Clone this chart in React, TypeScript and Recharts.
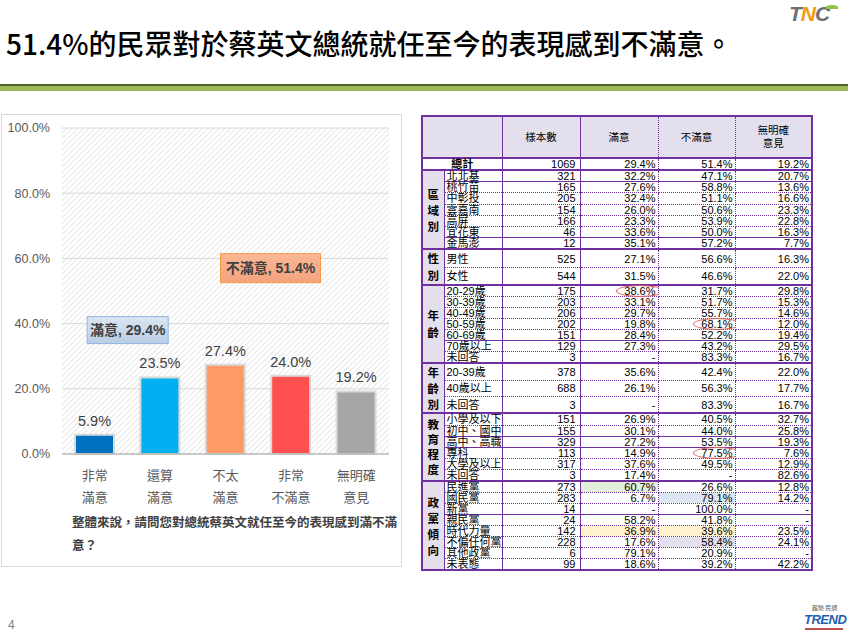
import React from "react";
import { BarChart, Bar, XAxis, YAxis, CartesianGrid, LabelList, Cell, ReferenceDot } from "recharts";

// ---- chart data ----
const CATEGORY_LINES = [["非常", "滿意"], ["還算", "滿意"], ["不太", "滿意"], ["非常", "不滿意"], ["無明確", "意見"]];
const CATEGORIES = CATEGORY_LINES.map((l) => l.join(""));
const SHARES = [5.9, 23.5, 27.4, 24.0, 19.2];
const BAR_COLORS = ["#0070C0", "#00B0F0", "#FF9966", "#FF5050", "#A6A6A6"];
const Y_TICKS = [0, 20, 40, 60, 80, 100];
const SATISFIED_TOTAL = 29.4;
const UNSATISFIED_TOTAL = 51.4;

// ---- table data ----
type Row = [string, string, string, string, string];
const TABLE_HEAD = ["樣本數", "滿意", "不滿意", "無明確\n意見"];
const TOTAL_ROW: Row = ["總計", "1069", "29.4%", "51.4%", "19.2%"];
const REGION_ROWS: Row[] = [
  ["北北基", "321", "32.2%", "47.1%", "20.7%"],
  ["桃竹苗", "165", "27.6%", "58.8%", "13.6%"],
  ["中彰投", "205", "32.4%", "51.1%", "16.6%"],
  ["雲嘉南", "154", "26.0%", "50.6%", "23.3%"],
  ["高屏", "166", "23.3%", "53.9%", "22.8%"],
  ["宜花東", "46", "33.6%", "50.0%", "16.3%"],
  ["金馬澎", "12", "35.1%", "57.2%", "7.7%"],
];
const GENDER_ROWS: Row[] = [
  ["男性", "525", "27.1%", "56.6%", "16.3%"],
  ["女性", "544", "31.5%", "46.6%", "22.0%"],
];
const AGE_ROWS: Row[] = [
  ["20-29歲", "175", "38.6%", "31.7%", "29.8%"],
  ["30-39歲", "203", "33.1%", "51.7%", "15.3%"],
  ["40-49歲", "206", "29.7%", "55.7%", "14.6%"],
  ["50-59歲", "202", "19.8%", "68.1%", "12.0%"],
  ["60-69歲", "151", "28.4%", "52.2%", "19.4%"],
  ["70歲以上", "129", "27.3%", "43.2%", "29.5%"],
  ["未回答", "3", "-", "83.3%", "16.7%"],
];
const AGE_GROUP_ROWS: Row[] = [
  ["20-39歲", "378", "35.6%", "42.4%", "22.0%"],
  ["40歲以上", "688", "26.1%", "56.3%", "17.7%"],
  ["未回答", "3", "-", "83.3%", "16.7%"],
];
const EDU_ROWS: Row[] = [
  ["小學及以下", "151", "26.9%", "40.5%", "32.7%"],
  ["初中、國中", "155", "30.1%", "44.0%", "25.8%"],
  ["高中、高職", "329", "27.2%", "53.5%", "19.3%"],
  ["專科", "113", "14.9%", "77.5%", "7.6%"],
  ["大學及以上", "317", "37.6%", "49.5%", "12.9%"],
  ["未回答", "3", "17.4%", "-", "82.6%"],
];
const PARTY_ROWS: Row[] = [
  ["民進黨", "273", "60.7%", "26.6%", "12.8%"],
  ["國民黨", "283", "6.7%", "79.1%", "14.2%"],
  ["新黨", "14", "-", "100.0%", "-"],
  ["親民黨", "24", "58.2%", "41.8%", "-"],
  ["時代力量", "142", "36.9%", "39.6%", "23.5%"],
  ["不偏任何黨", "228", "17.6%", "58.4%", "24.1%"],
  ["其他政黨", "6", "79.1%", "20.9%", "-"],
  ["未表態", "99", "18.6%", "39.2%", "42.2%"],
];

const PURPLE = "#7030A0";
const LAVENDER = "#E4DFEC";

const GROUPS = [
  { title: "區域別", rows: REGION_ROWS, rowH: 10.2, solidAfter: [0, 5], step: 16 },
  { title: "性別", rows: GENDER_ROWS, rowH: 13.6, solidAfter: [], step: 17 },
  { title: "年齡", rows: AGE_ROWS, rowH: 9.8, solidAfter: [4], step: 17 },
  { title: "年齡別", rows: AGE_GROUP_ROWS, rowH: 12.6, solidAfter: [], step: 16 },
  { title: "教育程度", rows: EDU_ROWS, rowH: 10.2, solidAfter: [1, 2], step: 15 },
  { title: "政黨傾向", rows: PARTY_ROWS, rowH: 9.2, solidAfter: [2], step: 16 },
];

// [group, row, col] -> background
const SHADED: [number, number, number, string][] = [
  [5, 0, 2, "#E2EFDA"],
  [5, 1, 3, "#DCE6F1"],
  [5, 4, 2, "#FFF2CC"],
  [5, 4, 3, "#FFF2CC"],
  [5, 5, 3, "#E4DFEC"],
];
const CIRCLED: [number, number, number][] = [
  [2, 0, 2],
  [2, 3, 3],
  [4, 3, 3],
];

const chartData = CATEGORIES.map((name, i) => ({ name, value: SHARES[i] }));

function CategoryTick(props: any) {
  const { x, y, payload } = props;
  const lines = CATEGORY_LINES[CATEGORIES.indexOf(payload.value)] ?? [payload.value];
  return (
    <g transform={`translate(${x},${y})`}>
      {lines.map((l, i) => (
        <text key={i} x={0} y={26 + i * 22} textAnchor="middle" fill="#595959" fontSize={13}
          fontFamily="'Noto Sans CJK TC', sans-serif">
          {l}
        </text>
      ))}
    </g>
  );
}

function Callout(props: any) {
  const { cx, cy, dx, w, h, text, fill, stroke } = props;
  const x = cx + dx;
  return (
    <g>
      <rect x={x - w / 2} y={cy - h / 2} width={w} height={h} fill={fill} stroke={stroke} strokeWidth={1} />
      <text x={x} y={cy + 5} textAnchor="middle" fontSize={14} fontWeight="bold" fill="#404040"
        fontFamily="'Liberation Sans', 'Noto Sans CJK TC', sans-serif">
        {text}
      </text>
    </g>
  );
}

function SurveyChart() {
  return (
    <BarChart width={400} height={400} data={chartData} margin={{ top: 13, right: 11, left: 0, bottom: 6 }}>
      <defs>
        <pattern id="hatch" patternUnits="userSpaceOnUse" width="4" height="4" patternTransform="rotate(45)">
          <rect width="4" height="4" fill="#FFFFFF" />
          <line x1="0" y1="0" x2="0" y2="4" stroke="#D6D6D6" strokeWidth="1.2" />
        </pattern>
        <linearGradient id="blueBox" x1="0" y1="0" x2="0" y2="1">
          <stop offset="0%" stopColor="#DCE6F2" />
          <stop offset="100%" stopColor="#B9CDE5" />
        </linearGradient>
        <linearGradient id="orangeBox" x1="0" y1="0" x2="0" y2="1">
          <stop offset="0%" stopColor="#F9B894" />
          <stop offset="100%" stopColor="#F4A27E" />
        </linearGradient>
      </defs>
      <CartesianGrid vertical={false} stroke="#D9D9D9" fill="url(#hatch)" />
      <XAxis dataKey="name" height={55} interval={0} tickLine={false} tickSize={0} tickMargin={0}
        axisLine={{ stroke: "#A6A6A6" }} tick={<CategoryTick />} />
      <YAxis width={62} domain={[0, 100]} ticks={Y_TICKS} axisLine={false} tickLine={false} tickSize={0}
        tickMargin={12} tickFormatter={(v: number) => `${v.toFixed(1)}%`}
        tick={{ fill: "#595959", fontSize: 12.5, fontFamily: "'Liberation Sans', sans-serif" }} />
      <Bar dataKey="value" barSize={39} stroke="#DADADA" strokeWidth={2} isAnimationActive={false}>
        {chartData.map((d, i) => (
          <Cell key={d.name} fill={BAR_COLORS[i]} />
        ))}
        <LabelList dataKey="value" position="top" offset={9} formatter={(v: any) => `${Number(v).toFixed(1)}%`}
          fill="#404040" fontSize={14.5} fontFamily="'Liberation Sans', sans-serif" />
      </Bar>
      <ReferenceDot x={CATEGORIES[0]} y={38} r={0}
        shape={(p: any) => <Callout {...p} dx={33} w={81} h={27} text={`滿意, ${SATISFIED_TOTAL}%`} fill="url(#blueBox)" stroke="#8EB4E3" />} />
      <ReferenceDot x={CATEGORIES[2]} y={57} r={0}
        shape={(p: any) => <Callout {...p} dx={45} w={100} h={29} text={`不滿意, ${UNSATISFIED_TOTAL}%`} fill="url(#orangeBox)" stroke="#F79646" />} />
    </BarChart>
  );
}

function DataTable() {
  const solid = `1px solid ${PURPLE}`;
  const dotted = `1px dotted ${PURPLE}`;
  const thick = `2px solid ${PURPLE}`;
  const base: React.CSSProperties = {
    padding: 0, fontSize: 11, lineHeight: "10px", whiteSpace: "nowrap", overflow: "visible",
  };
  const colRight = [solid, solid, dotted, dotted, thick];
  return (
    <table style={{ borderCollapse: "collapse", tableLayout: "fixed", width: 390, border: thick,
      fontFamily: "'Liberation Sans', 'Noto Sans CJK TC', sans-serif", color: "#000" }}>
      <colgroup>
        <col style={{ width: 22 }} />
        <col style={{ width: 58 }} />
        <col style={{ width: 78 }} />
        <col style={{ width: 78 }} />
        <col style={{ width: 77 }} />
        <col style={{ width: 77 }} />
      </colgroup>
      <tbody>
        <tr>
          <td colSpan={2} style={{ ...base, height: 40, background: LAVENDER, borderRight: solid, borderBottom: thick }} />
          {TABLE_HEAD.map((h, i) => (
            <td key={h} style={{ ...base, height: 40, background: LAVENDER, textAlign: "center", lineHeight: "13px",
              fontSize: 10.5, whiteSpace: "pre", borderRight: colRight[i + 1], borderBottom: thick }}>
              {h}
            </td>
          ))}
        </tr>
        <tr>
          <td colSpan={2} style={{ ...base, height: 9, textAlign: "center", fontWeight: "bold", borderRight: solid, borderBottom: thick }}>
            {TOTAL_ROW[0]}
          </td>
          {TOTAL_ROW.slice(1).map((v, i) => (
            <td key={i} style={{ ...base, height: 9, textAlign: "right", paddingRight: i === 0 ? 4 : 2,
              borderRight: colRight[i + 1], borderBottom: thick }}>{v}</td>
          ))}
        </tr>
        {GROUPS.map((g, gi) =>
          g.rows.map((r, ri) => {
            const last = ri === g.rows.length - 1;
            const bottom = last ? thick : g.solidAfter.includes(ri) ? solid : dotted;
            return (
              <tr key={`${gi}-${ri}`}>
                {ri === 0 && (
                  <td rowSpan={g.rows.length} style={{ ...base, background: LAVENDER, borderRight: solid,
                    borderBottom: thick, textAlign: "center", verticalAlign: "middle", fontWeight: "bold",
                    fontSize: 11.5, lineHeight: `${g.step}px`, fontFamily: "'Noto Sans CJK TC', sans-serif" }}>
                    {g.title.split("").map((c) => (
                      <div key={c}>{c}</div>
                    ))}
                  </td>
                )}
                {r.map((v, ci) => {
                  const shade = SHADED.find((s) => s[0] === gi && s[1] === ri && s[2] === ci);
                  const circled = CIRCLED.some((s) => s[0] === gi && s[1] === ri && s[2] === ci);
                  return (
                    <td key={ci} style={{ ...base, height: g.rowH, position: "relative",
                      textAlign: ci === 0 ? "left" : "right",
                      paddingLeft: ci === 0 ? 2 : 0,
                      paddingRight: ci === 0 ? 0 : ci === 1 ? 4 : 2,
                      background: shade ? shade[3] : "#FFFFFF",
                      borderRight: colRight[ci], borderBottom: bottom }}>
                      {v}
                      {circled && (
                        <span style={{ position: "absolute", right: -6, top: "50%", marginTop: -6, width: 48, height: 12,
                          border: "1px solid #E05A5A", borderRadius: "50%", boxSizing: "border-box" }} />
                      )}
                    </td>
                  );
                })}
              </tr>
            );
          })
        )}
      </tbody>
    </table>
  );
}

export default function App() {
  return (
    <div style={{ position: "absolute", left: 0, top: 0, width: 848, height: 636, background: "#FFFFFF",
      overflow: "hidden", fontFamily: "'Noto Sans CJK TC', sans-serif" }}>
      {/* title */}
      <div style={{ position: "absolute", left: 6, top: 28, fontSize: 28, lineHeight: "30px", fontWeight: 500,
        color: "#000", whiteSpace: "nowrap", fontFamily: "'Noto Sans CJK TC', sans-serif" }}>
        51.4%的民眾對於蔡英文總統就任至今的表現感到不滿意。
      </div>
      <div style={{ position: "absolute", left: 0, top: 84, width: 848, height: 2, background: "#4F6228" }} />
      <div style={{ position: "absolute", left: 0, top: 86, width: 848, height: 5, background: "#9BBB59" }} />

      {/* TNC logo */}
      <div style={{ position: "absolute", left: 789, top: 2, fontSize: 21, fontWeight: "bold", fontStyle: "italic",
        fontFamily: "'Liberation Sans', sans-serif", color: "#6D6E71", letterSpacing: -1 }}>
        T<span style={{ color: "#F39C12" }}>N</span>C
      </div>
      <div style={{ position: "absolute", left: 826, top: 5, width: 12, height: 4, background: "#8DC63F",
        borderRadius: "50% 50% 0 0" }} />

      {/* chart panel */}
      <div style={{ position: "absolute", left: 1, top: 114, width: 399, height: 451, border: "1px solid #D9D9D9" }} />
      <div style={{ position: "absolute", left: 0, top: 115 }}>
        <SurveyChart />
      </div>
      <div style={{ position: "absolute", left: 72, top: 510, width: 332, fontSize: 12.5, lineHeight: "23px",
        fontWeight: "bold", color: "#404040" }}>
        整體來說，請問您對總統蔡英文就任至今的表現感到滿不滿意？
      </div>

      {/* table */}
      <div style={{ position: "absolute", left: 421, top: 115 }}>
        <DataTable />
      </div>

      {/* footer */}
      <div style={{ position: "absolute", left: 8, top: 618, fontSize: 12, color: "#808080",
        fontFamily: "'Liberation Sans', sans-serif" }}>4</div>
      <div style={{ position: "absolute", left: 812, top: 603, fontSize: 6, color: "#555", whiteSpace: "nowrap",
        fontFamily: "'Noto Sans CJK TC', sans-serif" }}>趨勢 民調</div>
      <div style={{ position: "absolute", left: 804, top: 612, fontSize: 13, fontWeight: "bold", fontStyle: "italic",
        color: "#1F5FAD", fontFamily: "'Liberation Sans', sans-serif", letterSpacing: -0.5 }}>TREND</div>
      <div style={{ position: "absolute", left: 805, top: 628, width: 38, height: 2, background: "#C0504D" }} />
    </div>
  );
}
